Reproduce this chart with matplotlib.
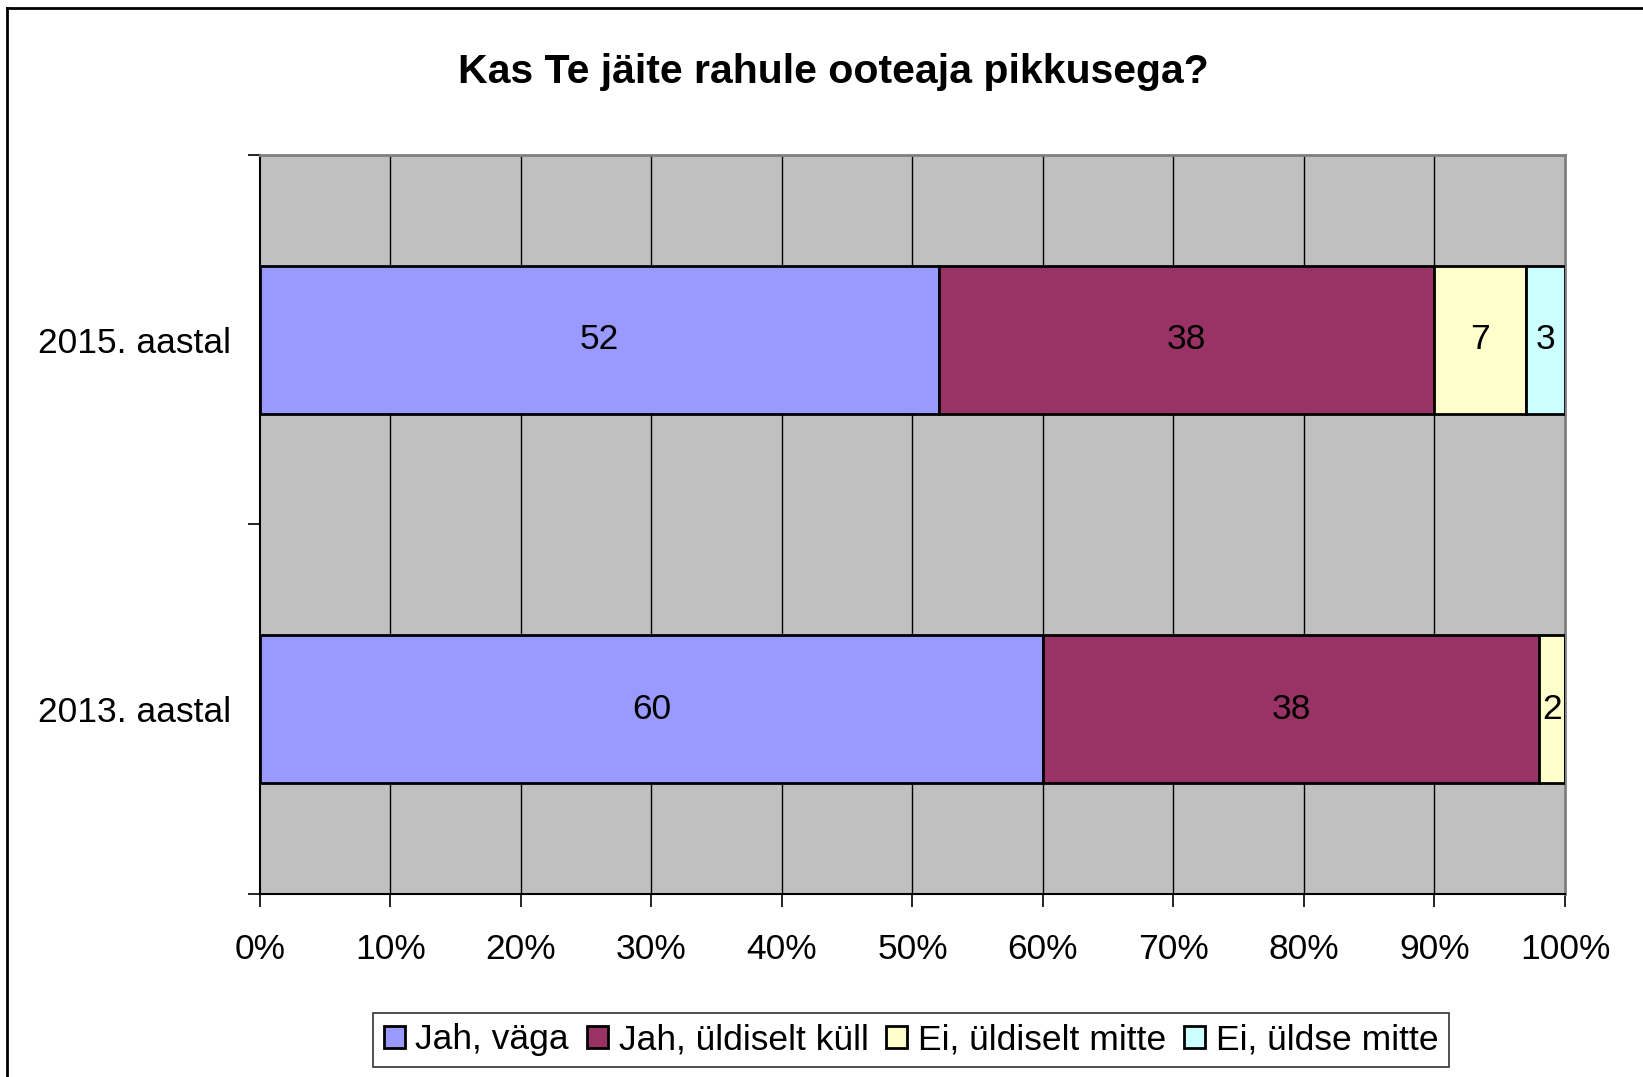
import matplotlib.pyplot as plt
from matplotlib.lines import Line2D

plt.rcParams['font.family'] = ['Liberation Sans', 'DejaVu Sans']

years = ['2015. aastal', '2013. aastal']
series = ['Jah, väga', 'Jah, üldiselt küll', 'Ei, üldiselt mitte', 'Ei, üldse mitte']
colors = ['#9999FF', '#993366', '#FFFFCC', '#CCFFFF']
values = [[52, 60],   # Jah, väga
          [38, 38],   # Jah, üldiselt küll
          [7, 2],     # Ei, üldiselt mitte
          [3, 0]]     # Ei, üldse mitte
xticks = [0, 10, 20, 30, 40, 50, 60, 70, 80, 90, 100]

FS = 25.5

fig = plt.figure(figsize=(16.43, 10.77), dpi=100)
ax = fig.add_axes([0.1582, 0.1699, 0.7943, 0.6862])
ax.set_facecolor('#C0C0C0')

ypos = [0.5, 1.5]
left = [0, 0]
for vals, col, name in zip(values, colors, series):
    ax.barh(ypos, vals, left=left, height=0.4, color=col,
            edgecolor='black', linewidth=2, label=name, zorder=3)
    for y, v, l in zip(ypos, vals, left):
        if v > 0:
            ax.text(l + v / 2, y, str(v), ha='center', va='center',
                    fontsize=FS, zorder=4)
    left = [l + v for l, v in zip(left, vals)]

for x in xticks[1:-1]:
    ax.axvline(x, color='black', linewidth=1, zorder=1)

ax.set_xlim(0, 100)
ax.set_ylim(2, 0)
ax.set_xticks(xticks)
ax.set_xticklabels([f'{x}%' for x in xticks], fontsize=FS)
ax.set_yticks([0, 1, 2])
ax.set_yticklabels([])
ax.set_yticks(ypos, minor=True)
ax.set_yticklabels(years, minor=True, fontsize=FS)
ax.tick_params(axis='y', which='minor', length=0, pad=21)
ax.tick_params(axis='y', which='major', length=9, width=1.2, direction='out')
ax.tick_params(axis='x', length=9, width=1.2, direction='out', pad=19)

for s in ['left', 'bottom']:
    ax.spines[s].set_color('black')
    ax.spines[s].set_linewidth(1.5)
for s in ['top', 'right']:
    ax.spines[s].set_color('#808080')
    ax.spines[s].set_linewidth(2)

fig.text(0.507, 0.9335, 'Kas Te jäite rahule ooteaja pikkusega?',
         ha='center', va='center', fontsize=29.5, fontweight='bold')

leg = fig.legend(loc='center', bbox_to_anchor=(0.5545, 0.0344), ncol=4,
                 fontsize=FS, frameon=True, fancybox=False,
                 handlelength=0.6, handleheight=0.6, handletextpad=0.3,
                 columnspacing=0.5, borderpad=0.3, borderaxespad=0)
leg.get_frame().set_edgecolor('black')
leg.get_frame().set_linewidth(1.2)

# outer chart border (left and top only visible)
fig.add_artist(Line2D([7 / 1643, 7 / 1643], [0, 1 - 8 / 1077],
                      transform=fig.transFigure, color='black', linewidth=2))
fig.add_artist(Line2D([7 / 1643, 1], [1 - 8 / 1077, 1 - 8 / 1077],
                      transform=fig.transFigure, color='black', linewidth=2))

fig.savefig('out.png', dpi=100)
